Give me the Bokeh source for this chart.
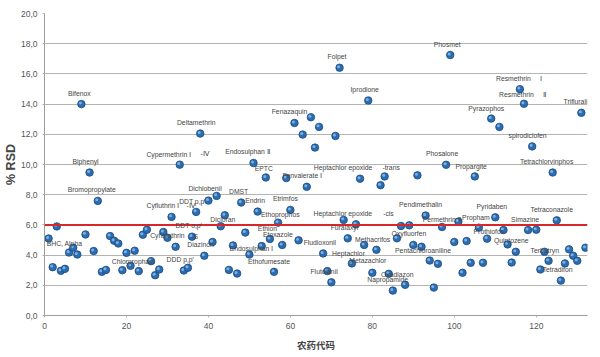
from bokeh.plotting import figure
from bokeh.models import FixedTicker, Span, ColumnDataSource, Range1d, LabelSet
from bokeh.transform import dodge
from bokeh.core.properties import value
from bokeh.embed import file_html
from bokeh.resources import INLINE

# ---------------- data ----------------
codes = list(range(1, 133))
rsd = [
    5.1, 3.2, 5.9, 2.96, 3.09, 4.17, 4.49, 4.04, 14.0, 5.37,
    9.47, 4.27, 7.59, 2.89, 3.02, 5.26, 4.95, 4.77, 3.0, 4.15,
    3.29, 4.29, 2.94, 5.35, 5.68, 3.6, 2.67, 3.05, 5.53, 5.15,
    6.53, 4.55, 9.99, 2.98, 3.16, 5.22, 6.86, 12.05, 3.96, 7.61,
    4.87, 7.92, 5.91, 6.64, 3.02, 4.64, 2.78, 7.48, 5.49, 4.04,
    10.1, 6.88, 4.6, 9.14, 5.07, 2.89, 6.15, 4.67, 9.1, 6.99,
    12.75, 4.98, 11.98, 8.52, 13.13, 11.12, 12.49, 4.11, 2.94, 2.2,
    11.89, 16.41, 6.33, 5.11, 3.45, 6.04, 9.06, 4.67, 14.24, 2.83,
    4.35, 8.63, 9.21, 2.76, 1.65, 5.11, 5.93, 2.03, 5.97, 4.67,
    9.28, 4.55, 6.62, 3.64, 1.85, 3.42, 5.86, 9.98, 17.25, 4.87,
    6.22, 2.83, 4.93, 3.49, 9.21, 5.82, 3.49, 5.09, 13.04, 6.5,
    12.49, 5.66, 4.71, 3.51, 4.22, 14.99, 14.02, 5.66, 11.2, 5.68,
    3.05, 4.22, 3.62, 9.47, 6.3, 2.31, 3.45, 4.38, 3.96, 3.62,
    13.42, 4.49,
]
limit_rsd = 6.0
y_ticks = [0, 2, 4, 6, 8, 10, 12, 14, 16, 18, 20]
x_ticks = [0, 20, 40, 60, 80, 100, 120]
y_tick_labels = ["0,0", "2,0", "4,0", "6,0", "8,0", "10,0", "12,0", "14,0", "16,0", "18,0", "20,0"]

# point labels: text, anchored pesticide code
label_text = [
    "Bifenox", "Biphenyl", "Bromopropylate", "BHC, Alpha", "Cypermethrin Ⅰ", "-Ⅳ",
    "Deltamethrin", "Endosulphan Ⅱ", "EPTC", "Fenvalerate Ⅰ", "Heptachlor epoxide", "-trans",
    "Fenazaquin", "Folpet", "Iprodione", "Phosmet", "Resmethrin", "Ⅰ", "Resmethrin", "Ⅱ",
    "Trifluralin", "Pyrazophos", "spirodiclofen", "Phosalone", "Propargite", "Tetrachlorvinphos",
    "Cyfluthrin Ⅰ", "-Ⅳ", "DDT p,p′", "Dichlobenil", "DMST", "Endrin", "Etrimfos", "Ethoprophos",
    "DDT o,p′", "Dicloran", "Cyhalothrin", "-S", "Diazinon", "DDD p,p′", "Chlorpropham",
    "Endosulphan Ⅰ", "Ethion", "Etoxazole", "Ethofumesate", "Fludioxonil", "Heptachlor epoxide",
    "-cis", "Furalaxyl", "Methacrifos", "Heptachlor", "Metazachlor", "Flutolanil", "Napropamide",
    "Oxadiazon", "Oxyfluorfen", "Pendimethalin", "Pentachloroaniline", "Permethrin Ⅱ", "Propham",
    "Pyridaben", "Prothiofos", "Simazine", "Quintozene", "Tetraconazole", "Terbutryn", "Tetradifon",
]
label_code = [
    9, 11, 13, 1, 33, 33,
    38, 51, 54, 59, 77, 83,
    61, 72, 79, 99, 116, 116, 117, 117,
    131, 109, 119, 98, 105, 124,
    31, 31, 40, 42, 48, 52, 60, 57,
    36, 44, 29, 36, 41, 35, 26,
    50, 55, 55, 56, 62, 73,
    87, 76, 78, 68, 75, 69, 85,
    84, 86, 93, 92, 101, 106,
    110, 112, 118, 113, 125, 122, 121,
]

# ---------------- label layout (screen-pixel offsets from their point, +down) ----------------
label_dx = [
    -2, -4, -6, 16, -11, 25,
    -4, -6, -2, 16, -17, 6.5,
    -5, -2.5, -3.6, -3, -6.5, 21, -7.5, 20.6,
    -4, -5, -4.6, -4, -3.6, -6,
    -8.7, 19, -16, -11.6, -2.6, -2.5, -5, 2.2,
    -3.3, -2, 4, 2.7, -12, -7.7, -17.7,
    2, -2.4, 8, -5, 21.3, -0.8,
    -12.6, -11.5, 8.5, 25.3, 16, -3.2, -5.2,
    8.5, 12, -5, 1.5, -16.7, -3,
    -3.5, -14.6, -3, 3.7, -5, 0.3, 17.2,
]
label_dy = [
    -11, -11, -11, 5, -10.5, -11,
    -11, -11, -8.5, -2.7, -11.6, -9.3,
    -11.7, -11, -10.6, -11, -11, -11, -9, -9,
    -11, -10.3, -10.7, -11, -10.3, -11,
    -11, -11, 0.5, -7, -11, -10.7, -11.6, -8.3,
    -11, 4.6, 3.4, 0, 2.4, -8.3, 0,
    -6.3, -10, -4.3, -10.7, 2, -6,
    -12, 3, -5.3, 0, -2.7, 0, -11,
    0.3, -4.4, -10.7, 3.3, -1.7, -10.3,
    -11, 1.7, -11, -3.4, -11, -1.7, 0,
]

pts = ColumnDataSource(dict(x=codes, y=rsd))
labs = ColumnDataSource(dict(
    x=label_code,
    y=[rsd[c - 1] for c in label_code],
    text=label_text,
    dx=label_dx,
    dy=[-d for d in label_dy],   # LabelSet offsets are +up
))

p = figure(
    width=596, height=354,
    x_range=Range1d(0, 132.5), y_range=Range1d(0, 20),
    output_backend="svg", toolbar_location=None,
    min_border_top=13, min_border_right=9, min_border_left=0, min_border_bottom=0,
)
p.outline_line_color = None
p.background_fill_color = "white"

# grid
p.xgrid.visible = False
p.ygrid.ticker = FixedTicker(ticks=y_ticks)
p.ygrid.grid_line_color = "#b4b4b4"
p.ygrid.grid_line_width = 1

# axes
tick_font = "Liberation Sans"
p.yaxis.ticker = FixedTicker(ticks=y_ticks)
p.yaxis.major_label_overrides = {t: s for t, s in zip(y_ticks, y_tick_labels)}
p.xaxis.ticker = FixedTicker(ticks=x_ticks)
for ax in (p.xaxis[0], p.yaxis[0]):
    ax.axis_line_color = "#9c9c9c"
    ax.axis_line_width = 1
    ax.major_tick_line_color = "#b4b4b4"
    ax.major_tick_out = 2
    ax.major_tick_in = 0
    ax.minor_tick_line_color = None
    ax.major_label_text_font = tick_font
    ax.major_label_text_font_size = "8.5px"
    ax.major_label_text_color = "#555555"
    ax.major_label_standoff = 5

p.yaxis.axis_label = "% RSD"
p.yaxis.axis_label_text_font = "Liberation Sans"
p.yaxis.axis_label_text_font_size = "12.5px"
p.yaxis.axis_label_text_font_style = "bold"
p.yaxis.axis_label_text_color = "#444444"
p.yaxis.axis_label_standoff = 0

p.xaxis.axis_label = "农药代码"
p.xaxis.axis_label_text_font = "Noto Sans CJK SC"
p.xaxis.axis_label_text_font_size = "9.5px"
p.xaxis.axis_label_text_font_style = "bold"
p.xaxis.axis_label_text_color = "#444444"
p.xaxis.axis_label_standoff = 6

# limit line
p.add_layout(Span(location=limit_rsd, dimension="width", line_color="#d9262a", line_width=2))

# points (sphere-like)
p.scatter("x", "y", source=pts, size=7.5, fill_color="#2a6db3", line_color="#1b4a7e", line_width=0.8)
p.scatter(dodge("x", -0.25), dodge("y", 0.07), source=pts, size=3, fill_color="#9cc6ee",
          fill_alpha=0.75, line_color=None)

# labels (annotation, so not clipped at the frame)
p.add_layout(LabelSet(
    x="x", y="y", text="text", x_offset="dx", y_offset="dy", source=labs,
    text_font=value("Liberation Sans"), text_font_size=value("6.8px"),
    text_align="center", text_baseline="middle", text_color="#444444",
))

open("out.html", "w").write(file_html(p, INLINE))
